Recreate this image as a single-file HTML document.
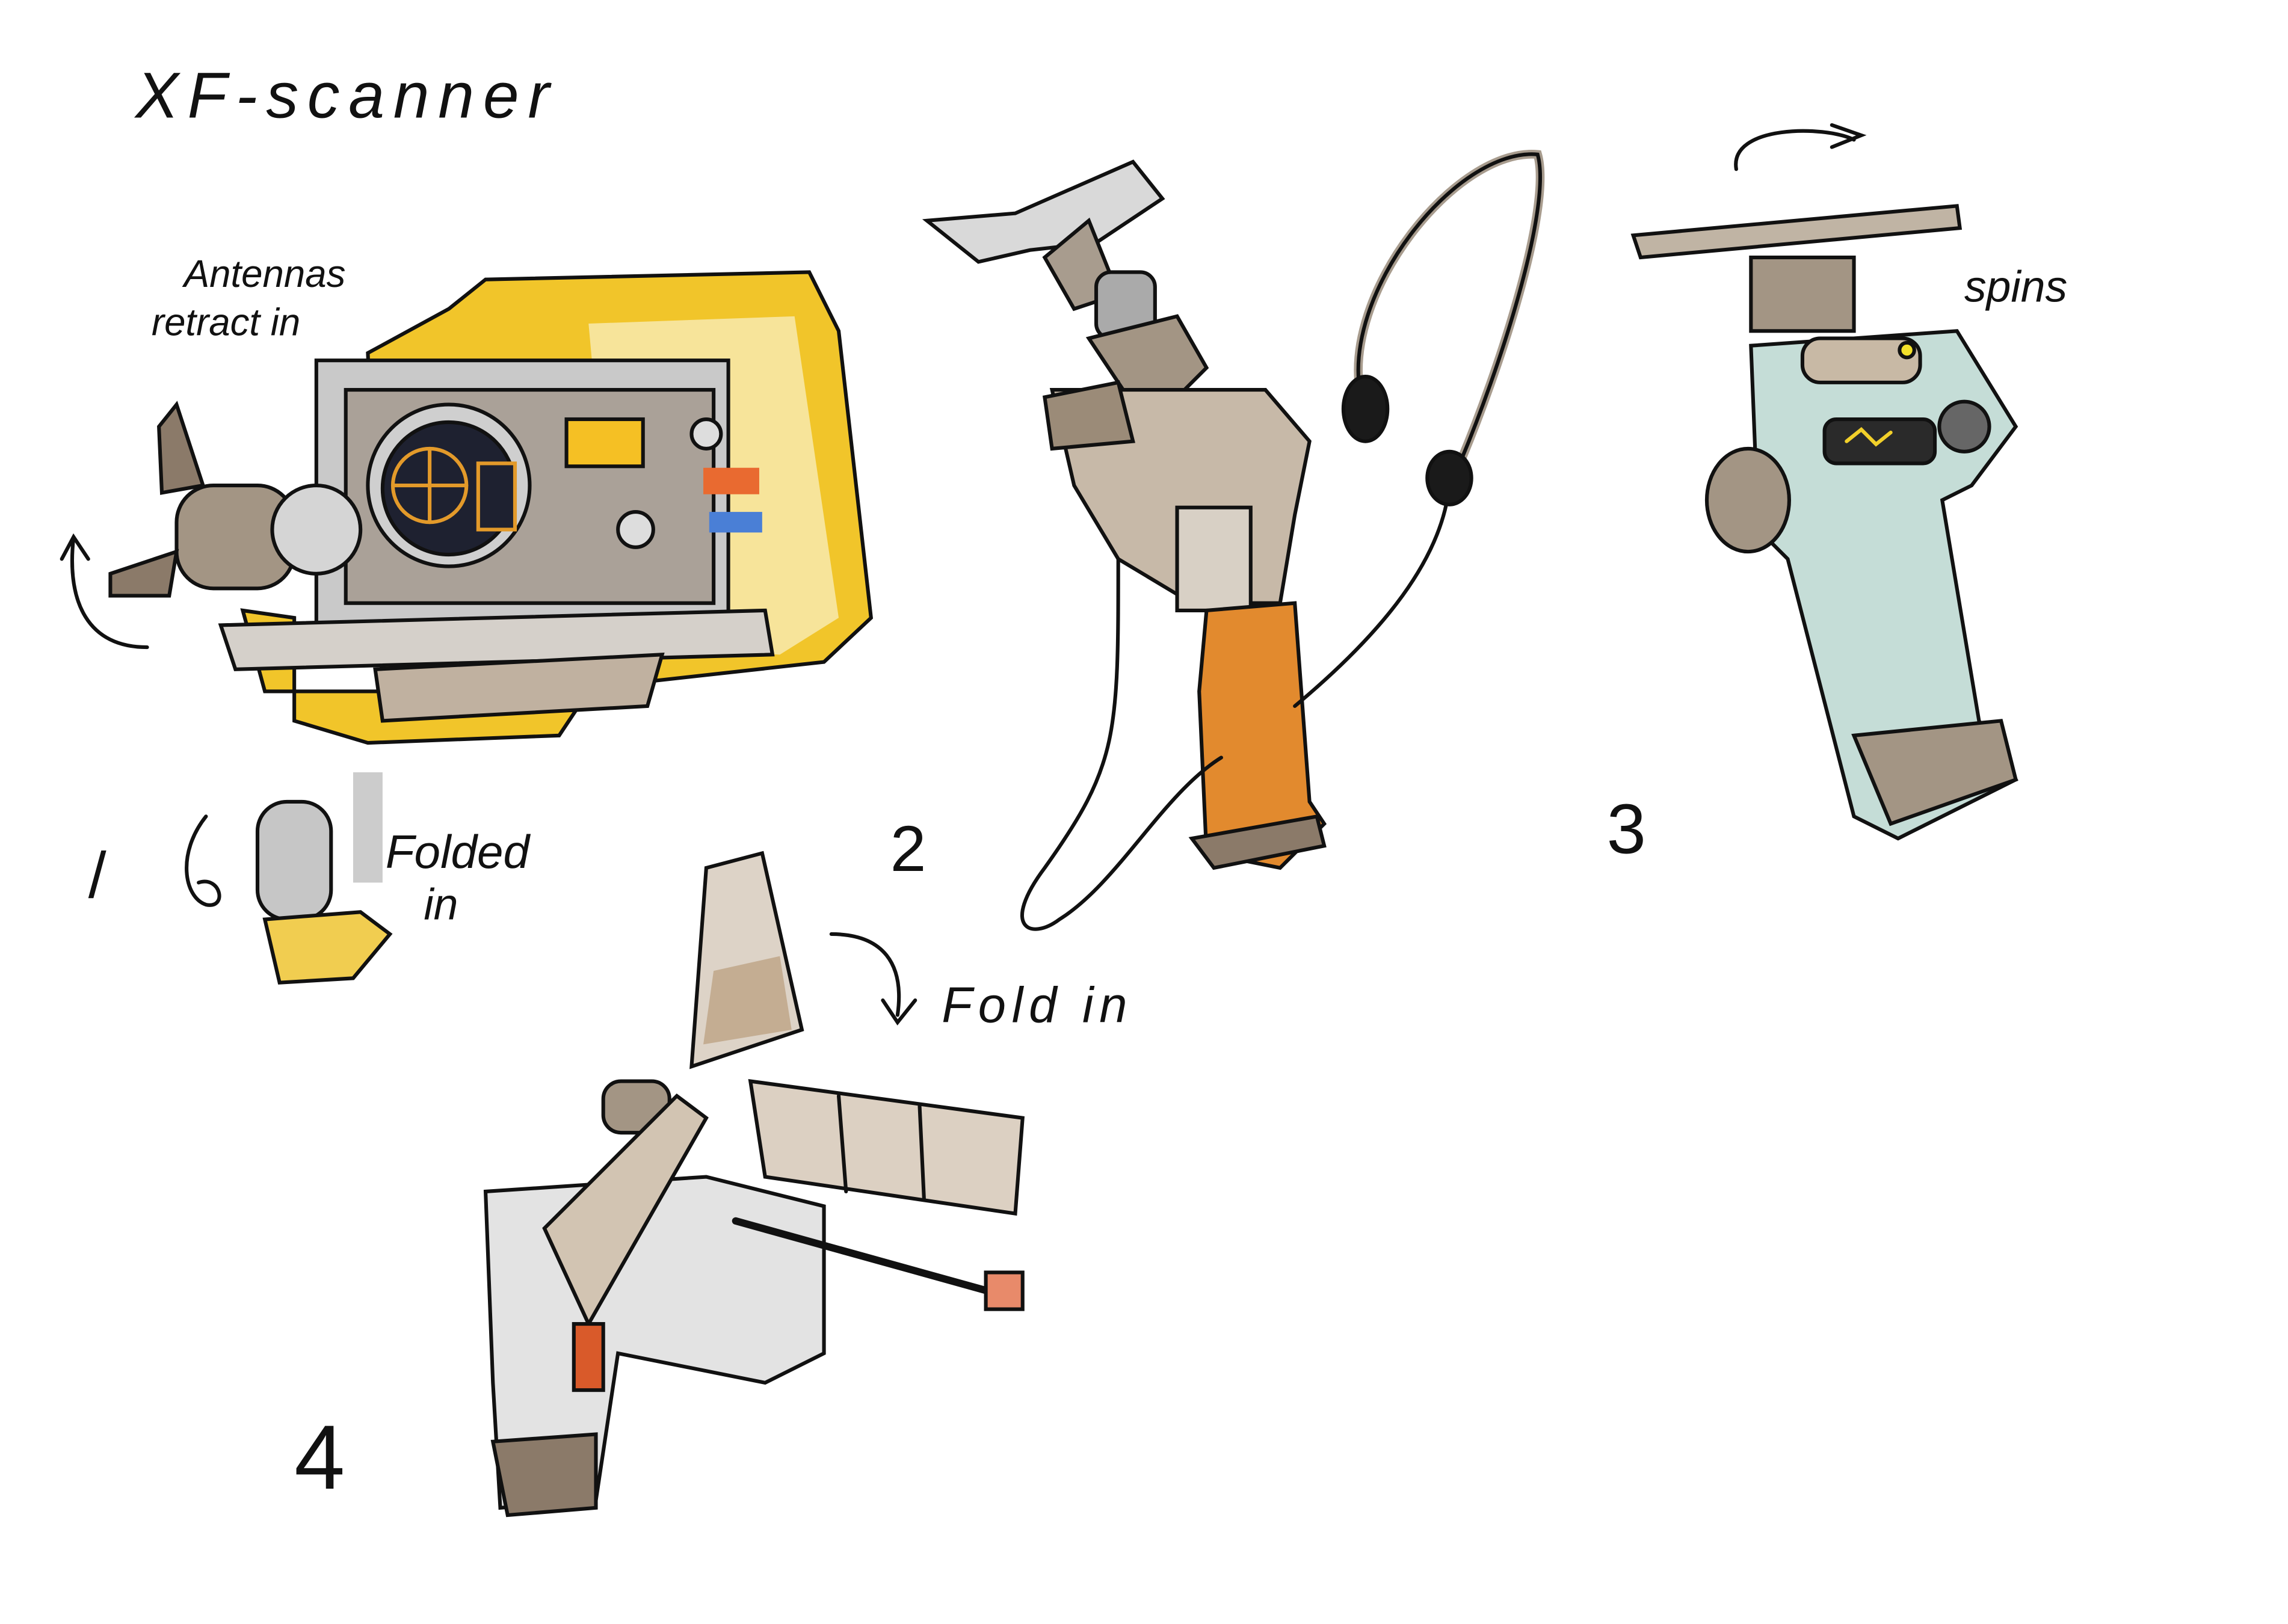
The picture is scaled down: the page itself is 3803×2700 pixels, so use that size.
<!DOCTYPE html>
<html><head><meta charset="utf-8"><style>
html,body{margin:0;padding:0;background:#fff;}
svg{display:block;}
text{font-family:"Liberation Sans",sans-serif;fill:#111;}
</style></head><body>
<svg width="3803" height="2700" viewBox="0 0 1555 1104" preserveAspectRatio="none" xmlns="http://www.w3.org/2000/svg">
<rect width="1555" height="1104" fill="#fff"/>
<g stroke="#111" stroke-width="2.5" fill="none" stroke-linecap="round">
<text x="92" y="80" font-size="44" stroke="none" font-style="italic" letter-spacing="6">XF-scanner</text>

<text x="125" y="195" font-size="26" stroke="none" font-style="italic">Antennas</text>
<text x="103" y="228" font-size="26" stroke="none" font-style="italic">retract in</text>
<path d="M305,210 L330,190 L550,185 L570,225 L592,420 L560,450 L380,470 L260,470 L250,240 Z" fill="#f1c52a" stroke="#111"/>
<path d="M400,220 L540,215 L570,420 L530,445 L420,440 Z" fill="#f7e49a" stroke="none"/>
<path d="M165,415 L200,420 L200,490 L250,505 L380,500 L400,470 L180,470 Z" fill="#f1c52a"/>
<rect x="215" y="245" width="280" height="180" fill="#c9c9c9"/>
<rect x="235" y="265" width="250" height="145" fill="#aaa198"/>
<circle cx="305" cy="330" r="55" fill="#cfcfcf"/>
<circle cx="305" cy="332" r="45" fill="#1e2130"/>
<circle cx="292" cy="330" r="25" stroke="#e39a2a" stroke-width="2.5"/>
<path d="M267,330 H317 M292,305 V355" stroke="#e39a2a"/>
<rect x="325" y="315" width="25" height="45" fill="#1e2130" stroke="#e39a2a"/>
<rect x="385" y="285" width="52" height="32" fill="#f5c024"/>
<rect x="478" y="318" width="38" height="18" fill="#e96a30" stroke="none"/>
<rect x="482" y="348" width="36" height="14" fill="#4a7fd6" stroke="none"/>
<circle cx="432" cy="360" r="12" fill="#ddd"/>
<circle cx="480" cy="295" r="10" fill="#ddd"/>
<path d="M150,425 L520,415 L525,445 L160,455 Z" fill="#d5d0ca"/>
<path d="M255,455 L450,445 L440,480 L260,490 Z" fill="#c0b1a0"/>
<rect x="120" y="330" width="80" height="70" rx="25" fill="#a39584"/>
<circle cx="215" cy="360" r="30" fill="#d5d5d5"/>
<path d="M108,290 L120,275 L138,330 L110,335 Z" fill="#8b7a69"/>
<path d="M75,390 L120,375 L115,405 L75,405 Z" fill="#8b7a69"/>
<path d="M100,440 C60,440 45,410 50,365 M42,380 L50,365 L60,380"/>
<text x="60" y="610" font-size="44" stroke="none">/</text>
<path d="M140,555 C120,580 125,610 140,615 C155,618 150,595 135,600"/>
<rect x="175" y="545" width="50" height="80" rx="20" fill="#c6c6c6"/>
<rect x="240" y="525" width="20" height="75" fill="#ccc" stroke="none"/>
<path d="M180,625 L245,620 L265,635 L240,665 L190,668 Z" fill="#f1cd50"/>
<text x="262" y="590" font-size="32" stroke="none" font-style="italic">Folded</text>
<text x="288" y="625" font-size="30" stroke="none" font-style="italic">in</text>

<path d="M630,150 L690,145 L770,110 L790,135 L745,165 L700,170 L665,178 Z" fill="#d9d9d9"/>
<path d="M710,175 L740,150 L760,200 L730,210 Z" fill="#a89c8e"/>
<rect x="745" y="185" width="40" height="45" rx="10" fill="#aaa"/>
<path d="M740,230 L800,215 L820,250 L780,290 Z" fill="#a39584"/>
<path d="M715,265 L860,265 L890,300 L880,350 L870,410 L810,410 L760,380 L730,330 Z" fill="#c7b9a8"/>
<path d="M710,270 L760,260 L770,300 L715,305 Z" fill="#9b8b78"/>
<rect x="800" y="345" width="50" height="70" fill="#d8d0c5"/>
<path d="M820,415 L880,410 L890,545 L900,560 L870,590 L820,580 L815,470 Z" fill="#e28a2e"/>
<path d="M810,570 L895,555 L900,575 L825,590 Z" fill="#8b7a69"/>
<path d="M760,380 C760,500 760,520 710,590 C680,630 700,640 720,625 C760,600 790,540 830,515"/>
<path d="M880,480 C940,430 980,380 985,330"/>
<path d="M925,270 C910,200 990,100 1045,105 C1055,140 1020,250 990,320" stroke-width="6" stroke="#a89c8e"/>
<path d="M925,270 C910,200 990,100 1045,105 C1055,140 1020,250 990,320"/>
<ellipse cx="928" cy="278" rx="15" ry="22" fill="#1a1a1a"/>
<ellipse cx="985" cy="325" rx="15" ry="18" fill="#1a1a1a"/>
<text x="605" y="592" font-size="44" stroke="none">2</text>

<path d="M1180,115 C1175,85 1240,85 1260,95 M1245,85 L1265,92 L1245,100"/>
<path d="M1110,160 L1330,140 L1332,155 L1115,175 Z" fill="#c0b4a4"/>
<rect x="1190" y="175" width="70" height="50" fill="#a39584"/>
<path d="M1190,235 L1330,225 L1370,290 L1340,330 L1320,340 L1345,490 L1370,530 L1290,570 L1260,555 L1215,380 L1195,360 Z" fill="#c5ddd7"/>
<rect x="1225" y="230" width="80" height="30" rx="12" fill="#c8b9a5"/>
<circle cx="1296" cy="238" r="5" fill="#f2e02a"/>
<rect x="1240" y="285" width="75" height="30" rx="8" fill="#2a2a2a"/>
<path d="M1255,300 L1265,292 L1275,302 L1285,294" stroke="#f2d02a"/>
<circle cx="1335" cy="290" r="17" fill="#666"/>
<ellipse cx="1188" cy="340" rx="28" ry="35" fill="#a39584"/>
<path d="M1260,500 L1360,490 L1370,530 L1285,560 Z" fill="#a39584"/>
<text x="1335" y="205" font-size="30" stroke="none" font-style="italic">spins</text>
<text x="1092" y="580" font-size="48" stroke="none">3</text>

<path d="M480,590 L518,580 L545,700 L470,725 Z" fill="#ddd3c7"/>
<path d="M485,660 L530,650 L538,700 L478,710 Z" fill="#c4ad92" stroke="none"/>
<path d="M510,735 L695,760 L690,825 L520,800 Z" fill="#dcd0c2"/>
<path d="M570,745 L575,810 M625,752 L628,815" />
<rect x="410" y="735" width="45" height="35" rx="12" fill="#a39584"/>
<path d="M330,810 L480,800 L560,820 L560,920 L520,940 L420,920 L405,1020 L340,1025 L335,940 Z" fill="#e3e3e3"/>
<path d="M370,835 L460,745 L480,760 L400,900 Z" fill="#d2c4b2"/>
<rect x="390" y="900" width="20" height="45" fill="#d95a2a"/>
<path d="M335,980 L405,975 L405,1025 L345,1030 Z" fill="#8b7a69"/>
<path d="M500,830 L680,880" stroke-width="5"/>
<rect x="670" y="865" width="25" height="25" fill="#e88a6a"/>
<path d="M565,635 C600,635 615,655 610,690 M600,680 L610,695 L622,680"/>
<text x="640" y="695" font-size="34" stroke="none" font-style="italic" letter-spacing="4">Fold in</text>
<text x="200" y="1012" font-size="62" stroke="none">4</text>
</g>
</svg>
</body></html>
